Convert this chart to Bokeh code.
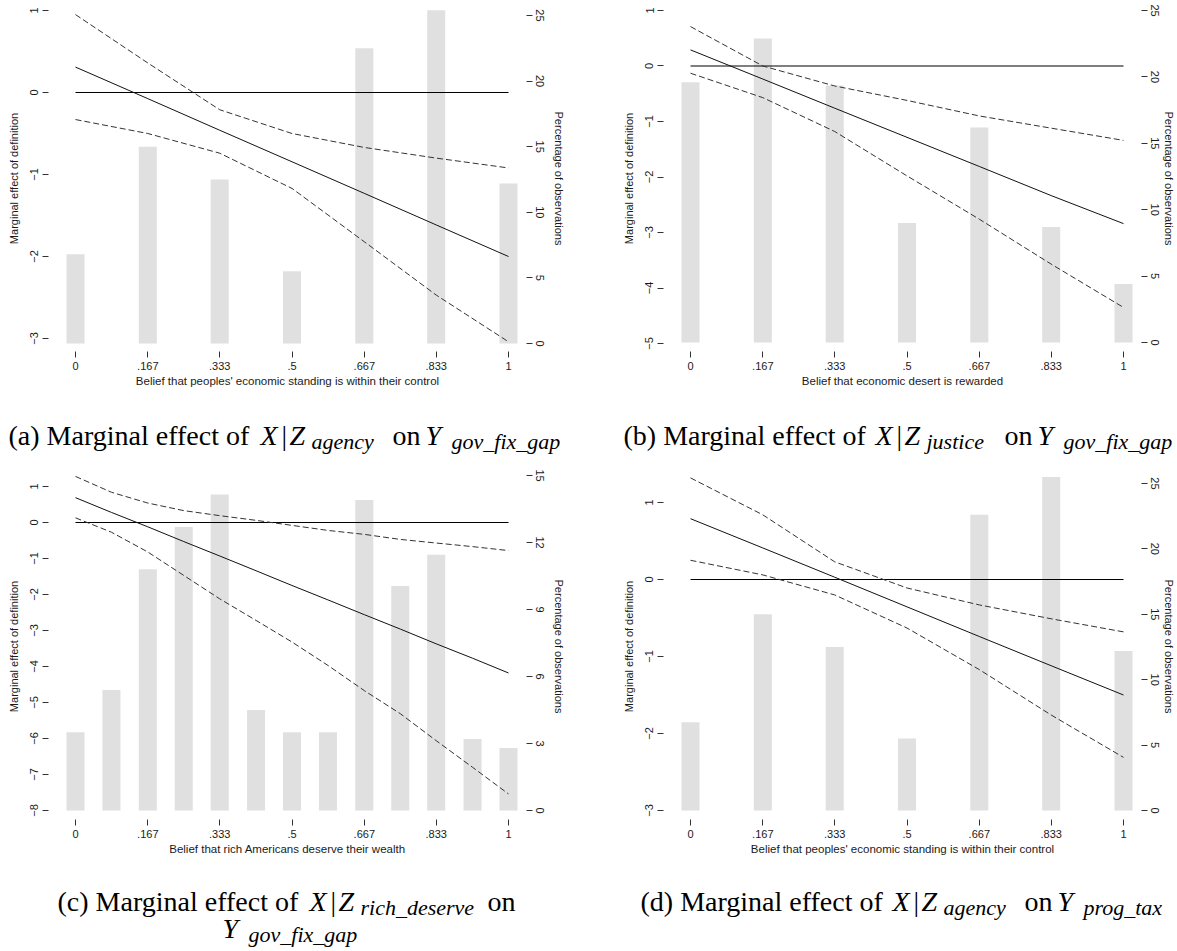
from bokeh.plotting import figure
from bokeh.models import Range1d, LinearAxis, FixedTicker, ColumnDataSource
from bokeh.layouts import column, row
from bokeh.embed import file_html
from bokeh.resources import INLINE
from bokeh.core.properties import value

# ---------------- data ----------------
x7 = [0, 0.167, 0.333, 0.5, 0.667, 0.833, 1]
x13 = [0, 0.083, 0.167, 0.25, 0.333, 0.417, 0.5, 0.583, 0.667, 0.75, 0.833, 0.917, 1]
x_tick_labels = ["0", ".167", ".333", ".5", ".667", ".833", "1"]

a_pct = [6.8, 15.0, 12.5, 5.5, 22.5, 25.4, 12.2]
a_me = [0.31, -0.075, -0.46, -0.845, -1.23, -1.615, -2.0]
a_hi = [0.95, 0.36, -0.21, -0.50, -0.67, -0.80, -0.92]
a_lo = [-0.33, -0.50, -0.74, -1.17, -1.82, -2.47, -3.04]

b_pct = [19.6, 22.9, 19.35, 9.0, 16.2, 8.7, 4.4]
b_me = [0.29, -0.235, -0.76, -1.285, -1.81, -2.335, -2.84]
b_hi = [0.71, 0.0, -0.36, -0.62, -0.90, -1.12, -1.34]
b_lo = [-0.13, -0.57, -1.18, -1.98, -2.76, -3.57, -4.35]

c_pct = [3.5, 5.4, 10.8, 12.7, 14.15, 4.5, 3.5, 3.5, 13.9, 10.05, 11.45, 3.2, 2.8]
c_me = [0.69, 0.28, -0.12, -0.53, -0.93, -1.34, -1.75, -2.15, -2.56, -2.96, -3.37, -3.77, -4.18]
c_hi = [1.28, 0.84, 0.54, 0.33, 0.19, 0.06, -0.08, -0.22, -0.33, -0.47, -0.57, -0.67, -0.78]
c_lo = [0.13, -0.27, -0.82, -1.47, -2.12, -2.72, -3.32, -3.97, -4.67, -5.31, -6.06, -6.80, -7.54]

d_pct = [6.75, 15.0, 12.5, 5.5, 22.6, 25.5, 12.2]
d_me = [0.79, 0.41, 0.03, -0.355, -0.74, -1.12, -1.50]
d_hi = [1.32, 0.84, 0.23, -0.11, -0.33, -0.51, -0.68]
d_lo = [0.25, 0.06, -0.20, -0.63, -1.17, -1.76, -2.31]

left_title = "Marginal effect of definition"
right_title = "Percentage of observations"
xtitle_agency = "Belief that peoples' economic standing is within their control"
xtitle_justice = "Belief that economic desert is rewarded"
xtitle_rich = "Belief that rich Americans deserve their wealth"

TXT = "#1a1a1a"
SANS = "Liberation Sans"
SERIF = "Liberation Serif"


def style_axis(ax, lab_standoff, title_standoff, title_size="11px"):
    ax.axis_line_color = None
    ax.major_tick_line_color = "#333333"
    ax.major_tick_out = 6
    ax.major_tick_in = 0
    ax.minor_tick_line_color = None
    ax.major_label_text_font = SANS
    ax.major_label_text_font_size = "11px"
    ax.major_label_text_color = TXT
    ax.axis_label_text_font = SANS
    ax.axis_label_text_font_size = title_size
    ax.axis_label_text_font_style = "normal"
    ax.axis_label_text_color = TXT
    ax.major_label_standoff = lab_standoff
    ax.axis_label_standoff = title_standoff


def panel(xb, pct, me, hi, lo, xr, yl, yr, lticks, rticks, xtitle,
          width, height, mbl, mbr, mbt, mbb, rstand):
    p = figure(width=width, height=height, x_range=Range1d(*xr),
               y_range=Range1d(*yl), output_backend="svg",
               toolbar_location=None, min_border_left=mbl,
               min_border_right=mbr, min_border_top=mbt,
               min_border_bottom=mbb)
    p.extra_y_ranges = {"pct": Range1d(*yr)}
    p.grid.visible = False
    p.outline_line_color = None
    p.background_fill_color = "white"
    p.border_fill_color = "white"

    p.vbar(x=xb, top=pct, bottom=0, width=0.0416, y_range_name="pct",
           fill_color="#e0e0e0", line_color=None)
    p.segment(x0=[xb[0]], x1=[xb[-1]], y0=[0], y1=[0],
              line_color="black", line_width=1.2)
    p.line(xb, hi, line_color="#333333", line_width=1, line_dash="6 3")
    p.line(xb, lo, line_color="#333333", line_width=1, line_dash="6 3")
    p.line(xb, me, line_color="#111111", line_width=1)

    xa = p.xaxis[0]
    xa.ticker = FixedTicker(ticks=x7)
    xa.major_label_overrides = {t: s for t, s in zip(x7, x_tick_labels)}
    xa.axis_label = xtitle
    style_axis(xa, 4, 2, "11.5px")

    ya = p.yaxis[0]
    ya.ticker = FixedTicker(ticks=lticks)
    ya.axis_label = left_title
    ya.major_label_orientation = "vertical"
    style_axis(ya, 4, 8)

    ra = LinearAxis(y_range_name="pct", axis_label=right_title)
    ra.ticker = FixedTicker(ticks=rticks)
    ra.major_label_orientation = "vertical"
    style_axis(ra, 3, rstand)
    p.add_layout(ra, "right")
    return p


XR = (-0.06236, 1.04157)
pa = panel(x7, a_pct, a_me, a_hi, a_lo, XR,
           (-3.1585, 1.061), (-0.61, 25.76), [-3, -2, -1, 0, 1],
           [0, 5, 10, 15, 20, 25], xtitle_agency, 590, 396, 48, 64, 5, 45, 6)
pb = panel(x7, b_pct, b_me, b_hi, b_lo, XR,
           (-5.144, 1.090), (-0.678, 25.38), [-5, -4, -3, -2, -1, 0, 1],
           [0, 5, 10, 15, 20, 25], xtitle_justice, 587, 396, 73, 36, 5, 45, 1)
pc = panel(x13, c_pct, c_me, c_hi, c_lo, XR,
           (-8.25, 1.361), (-0.403, 15.09), [-8, -7, -6, -5, -4, -3, -2, -1, 0, 1],
           [0, 3, 6, 9, 12, 15], xtitle_rich, 590, 399, 48, 64, 8, 45, 6)
pd_ = panel(x7, d_pct, d_me, d_hi, d_lo, XR,
            (-3.117, 1.377), (-0.688, 25.76), [-3, -2, -1, 0, 1],
            [0, 5, 10, 15, 20, 25], xtitle_agency, 587, 399, 73, 36, 8, 45, 1)

# ---------------- captions ----------------
# (text, kind, x, line) ; kind: rm = roman, it = italic, sub = italic subscript
cap1 = [
    ("(a) Marginal effect of", "rm", 8, 0), ("X", "it", 260, 0), ("|", "rm", 281, 0),
    ("Z", "it", 289, 0), ("agency", "sub", 311, 0), ("on", "rm", 392, 0),
    ("Y", "it", 425, 0), ("gov_fix_gap", "sub", 451, 0),
    ("(b) Marginal effect of", "rm", 623, 0), ("X", "it", 875, 0), ("|", "rm", 896, 0),
    ("Z", "it", 904, 0), ("justice", "sub", 926, 0), ("on", "rm", 1004, 0),
    ("Y", "it", 1037, 0), ("gov_fix_gap", "sub", 1063, 0),
]
cap2 = [
    ("(c) Marginal effect of", "rm", 57, 0), ("X", "it", 309, 0), ("|", "rm", 330, 0),
    ("Z", "it", 338, 0), ("rich_deserve", "sub", 360, 0), ("on", "rm", 487, 0),
    ("Y", "it", 222, 1), ("gov_fix_gap", "sub", 248, 1),
    ("(d) Marginal effect of", "rm", 640, 0), ("X", "it", 892, 0), ("|", "rm", 913, 0),
    ("Z", "it", 921, 0), ("agency", "sub", 943, 0), ("on", "rm", 1024, 0),
    ("Y", "it", 1057, 0), ("prog_tax", "sub", 1083, 0),
]


def caption_fig(parts, top, height, base0, lstep):
    f = figure(width=1177, height=height, x_range=Range1d(0, 1177),
               y_range=Range1d(top + height, top), output_backend="svg",
               toolbar_location=None, x_axis_type=None, y_axis_type=None,
               min_border=0)
    f.grid.visible = False
    f.outline_line_color = None
    f.background_fill_color = "white"
    f.border_fill_color = "white"
    for kind, size, style, dy in (("rm", "28px", "normal", 0),
                                  ("it", "28px", "italic", 0),
                                  ("sub", "22px", "italic", 6)):
        sel = [q for q in parts if q[1] == kind]
        src = ColumnDataSource(dict(
            x=[q[2] for q in sel],
            y=[base0 + q[3] * lstep + dy for q in sel],
            t=[q[0] for q in sel]))
        f.text(x="x", y="y", text="t", source=src, text_font=value(SERIF),
               text_font_size=value(size), text_font_style=style,
               text_color="black", text_baseline="alphabetic",
               text_align="left")
    return f


c1 = caption_fig(cap1, 396, 69, 435, 0)
c2 = caption_fig(cap2, 864, 87, 901, 27)

layout = column(row(pa, pb), c1, row(pc, pd_), c2)
open("out.html", "w").write(file_html(layout, INLINE))
